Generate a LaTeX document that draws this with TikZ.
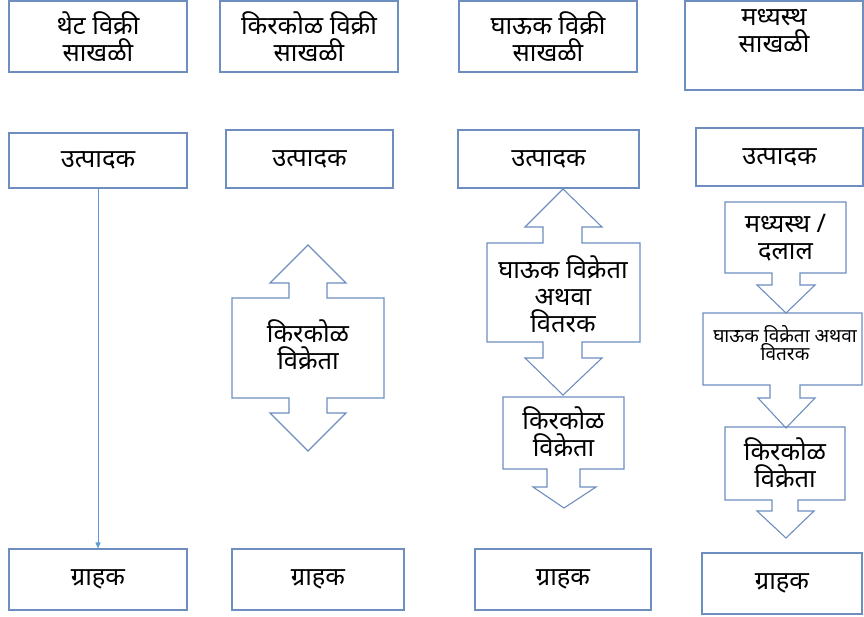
\documentclass[tikz,border=0pt]{standalone}
\usepackage{fontspec}
\newfontfamily\dev[Script=Devanagari]{Noto Sans}
\usetikzlibrary{arrows.meta}
\definecolor{edge}{RGB}{109,142,190}
\definecolor{arrowblue}{RGB}{91,155,213}
\begin{document}
\begin{tikzpicture}[x=1pt,y=-1pt,
 box/.style={draw=edge, line width=1.1pt, inner sep=0pt, align=center, font=\dev\fontsize{25.5}{27}\selectfont},
 txt/.style={align=center, inner sep=0pt, font=\dev\fontsize{25.5}{27}\selectfont},
 small/.style={align=center, inner sep=0pt, font=\dev\fontsize{19}{18}\selectfont},
 callout/.style={draw=edge, line width=1.1pt, line join=miter},
 link/.style={draw=arrowblue, line width=0.8pt, -{Triangle[length=6pt,width=5pt]}}]
\useasboundingbox (0,0) rectangle (864,616);

% title row
\node[box, minimum width=178pt, minimum height=71pt] (t1) at (98,36.5) {थेट विक्री\\साखळी};
\node[box, minimum width=178pt, minimum height=71pt] (t2) at (309,36.5) {किरकोळ विक्री\\साखळी};
\node[box, minimum width=178pt, minimum height=71pt] (t3) at (548,36.5) {घाऊक विक्री\\साखळी};
\node[box, minimum width=178pt, minimum height=89pt] (t4) at (774,45.5) {};
\node[txt] (t4text) at (774,31) {मध्यस्थ\\साखळी};

% producer row
\node[box, minimum width=178pt, minimum height=55pt] (p1) at (98,160.5) {उत्पादक};
\node[box, minimum width=167pt, minimum height=58pt] (p2) at (309.5,159) {उत्पादक};
\node[box, minimum width=181pt, minimum height=58pt] (p3) at (548.5,159) {उत्पादक};
\node[box, minimum width=167pt, minimum height=58pt] (p4) at (779.5,157) {उत्पादक};

% consumer row
\node[box, minimum width=178pt, minimum height=61pt] (g1) at (98,579.5) {ग्राहक};
\node[box, minimum width=172pt, minimum height=61pt] (g2) at (318,579.5) {ग्राहक};
\node[box, minimum width=176pt, minimum height=61pt] (g3) at (563,579.5) {ग्राहक};
\node[box, minimum width=160pt, minimum height=61pt] (g4) at (782,583.5) {ग्राहक};

% column 1 connector
\draw[link] (p1.south) -- (g1.north);

% column 2 up-down callout
\draw[callout] (308,245) -- (346,283) -- (327,283) -- (327,298) -- (384,298) -- (384,398) -- (327,398) -- (327,413) -- (346,413) -- (308,451) -- (270,413) -- (289,413) -- (289,398) -- (232,398) -- (232,298) -- (289,298) -- (289,283) -- (270,283) -- cycle;
\node[txt] (r2) at (308,345) {किरकोळ\\विक्रेता};

% column 3 up-down callout
\draw[callout] (563,189) -- (602,227) -- (582,227) -- (582,243) -- (640,243) -- (640,342) -- (582,342) -- (582,358) -- (602,358) -- (563,395) -- (525,358) -- (543,358) -- (543,342) -- (487,342) -- (487,243) -- (543,243) -- (543,227) -- (525,227) -- cycle;
\node[txt] (w3) at (563,294) {घाऊक विक्रेता\\अथवा\\वितरक};

% column 3 down callout
\draw[callout] (503,397) -- (624,397) -- (624,469) -- (580,469) -- (580,487) -- (596,487) -- (564,508) -- (533,487) -- (547,487) -- (547,469) -- (503,469) -- cycle;
\node[txt] (r3) at (563.5,432) {किरकोळ\\विक्रेता};

% column 4 callouts
\draw[callout] (725,202) -- (846,202) -- (846,273) -- (800,273) -- (800,285) -- (815,285) -- (786,313) -- (757,285) -- (772,285) -- (772,273) -- (725,273) -- cycle;
\node[txt] (m4) at (785.5,238) {मध्यस्थ /\\दलाल};

\draw[callout] (703,313) -- (862,313) -- (862,385) -- (800,385) -- (800,398) -- (815,398) -- (786,428) -- (758,398) -- (770,398) -- (770,385) -- (703,385) -- cycle;
\node[small] (w4) at (785,343) {घाऊक विक्रेता अथवा\\वितरक};

\draw[callout] (725,427) -- (845,427) -- (845,500) -- (798,500) -- (798,511) -- (814,511) -- (786,538) -- (757,511) -- (772,511) -- (772,500) -- (725,500) -- cycle;
\node[txt] (r4) at (785,463) {किरकोळ\\विक्रेता};
\end{tikzpicture}
\end{document}
